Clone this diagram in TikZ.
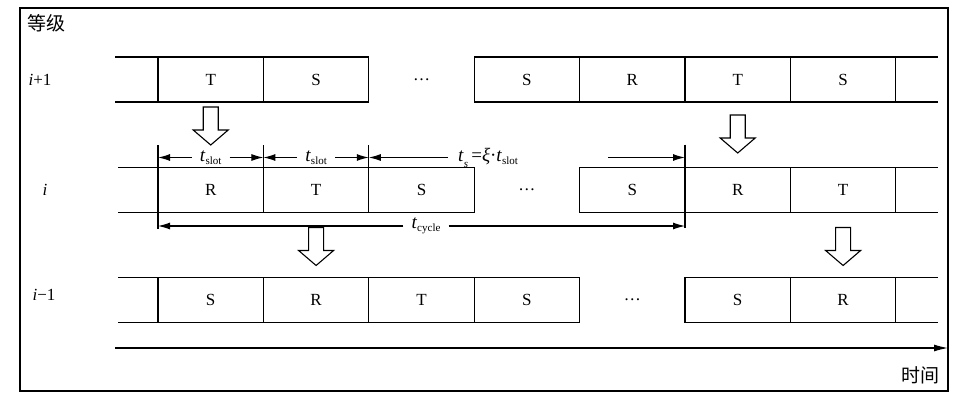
\documentclass[tikz,border=0pt]{standalone}
\usepackage{fontspec}
\setmainfont{Liberation Serif}
\newfontfamily\cjk{Noto Sans CJK SC}
\usetikzlibrary{arrows.meta,positioning}

\newcommand{\tlab}[1]{\textit{t}\raisebox{-3.5pt}{\fontsize{11}{11}\selectfont #1}}

\begin{document}
\begin{tikzpicture}[x=1pt,y=-1pt,
    line/.style={line width=1.1pt},
    cell/.style={draw,line width=1.1pt,minimum width=105.4pt,minimum height=45pt,inner sep=0pt,outer sep=0pt,font=\fontsize{17}{19}\selectfont},
    gap/.style={minimum width=105.4pt,minimum height=45pt,inner sep=0pt,outer sep=0pt,font=\fontsize{17}{19}\selectfont},
    endcell/.style={minimum width=#1,minimum height=45pt,inner sep=0pt,outer sep=0pt},
    level/.style={font=\fontsize{17}{19}\selectfont},
    dimlab/.style={font=\fontsize{19}{20}\selectfont,inner sep=8pt},
    dim/.style={line width=1.1pt,-{Latex[length=12pt,width=7pt]}},
    hollow/.pic={\draw[line width=1.1pt] (-7.5,0) -- (-7.5,23) -- (-17.5,23) -- (0,38) -- (17.5,23) -- (7.5,23) -- (7.5,0) -- cycle;}
]
\useasboundingbox (0,0) rectangle (960,401);
\draw[line width=2.2pt] (20,8) rectangle (948,391);

\node[anchor=west,font=\cjk\fontsize{19}{20}\selectfont] (grade) at (24,23) {等级};
\node[anchor=east,font=\cjk\fontsize{19}{20}\selectfont] (time) at (943,375) {时间};

\node[level] (li1) at (40,80) {\textit{i}+1};
\node[level] (li) at (45,190) {\textit{i}};
\node[level] (li0) at (44,295) {\textit{i}−1};

% level i+1
\node[cell] (a0) at (210.7,79.5) {T};
\node[cell,right=0pt of a0] (a1) {S};
\node[gap,right=0pt of a1] (a2) {…};
\node[cell,right=0pt of a2] (a3) {S};
\node[cell,right=0pt of a3] (a4) {R};
\node[cell,right=0pt of a4] (a5) {T};
\node[cell,right=0pt of a5] (a6) {S};
\node[endcell=43pt,left=0pt of a0] (aL) {};
\node[endcell=42pt,right=0pt of a6] (aR) {};
\draw[line] (aL.north west) -- (a0.north west) (aL.south west) -- (a0.south west);
\draw[line] (a6.north east) -- (aR.north east) (a6.south east) -- (aR.south east);

% level i
\node[cell] (b0) at (210.7,190) {R};
\node[cell,right=0pt of b0] (b1) {T};
\node[cell,right=0pt of b1] (b2) {S};
\node[gap,right=0pt of b2] (b3) {…};
\node[cell,right=0pt of b3] (b4) {S};
\node[cell,right=0pt of b4] (b5) {R};
\node[cell,right=0pt of b5] (b6) {T};
\node[endcell=40pt,left=0pt of b0] (bL) {};
\node[endcell=42pt,right=0pt of b6] (bR) {};
\draw[line] (bL.north west) -- (b0.north west) (bL.south west) -- (b0.south west);
\draw[line] (b6.north east) -- (bR.north east) (b6.south east) -- (bR.south east);

% level i-1
\node[cell] (c0) at (210.7,300) {S};
\node[cell,right=0pt of c0] (c1) {R};
\node[cell,right=0pt of c1] (c2) {T};
\node[cell,right=0pt of c2] (c3) {S};
\node[gap,right=0pt of c3] (c4) {…};
\node[cell,right=0pt of c4] (c5) {S};
\node[cell,right=0pt of c5] (c6) {R};
\node[endcell=40pt,left=0pt of c0] (cL) {};
\node[endcell=42pt,right=0pt of c6] (cR) {};
\draw[line] (cL.north west) -- (c0.north west) (cL.south west) -- (c0.south west);
\draw[line] (c6.north east) -- (cR.north east) (c6.south east) -- (cR.south east);

% slot widths
\coordinate (t0) at ([yshift=23pt]b0.north west);
\coordinate (t1) at ([yshift=23pt]b1.north west);
\coordinate (t2) at ([yshift=23pt]b2.north west);
\coordinate (t5) at ([yshift=23pt]b5.north west);
\coordinate (e0) at ([yshift=-16pt]b0.south west);
\coordinate (e5) at ([yshift=-15pt]b5.south west);
\draw[line] (b0.north west) -- (t0) (b1.north west) -- (t1) (b2.north west) -- (t2);
\draw[line] (b0.south west) -- (e0) (t5) -- (e5);

\node[dimlab] (l1) at ([yshift=10pt]b0.north) {\tlab{slot}};
\node[dimlab] (l2) at ([yshift=10pt]b1.north) {\tlab{slot}};
\node[dimlab,anchor=west,inner sep=0pt] (l3) at (458,157.5) {\textit{t}\raisebox{-6pt}{\fontsize{11}{11}\selectfont\textit{s}}\,=\textit{ξ}·\tlab{slot}};
\coordinate (m3) at (608,157.5);
\draw[dim] (l1) -- (l1 -| t0);
\draw[dim] (l1) -- (l1 -| t1);
\draw[dim] (l2) -- (l2 -| t1);
\draw[dim] (l2) -- (l2 -| t2);
\draw[dim] ([xshift=-10pt]l3.west) -- (l3 -| t2);
\draw[dim] (m3) -- (m3 -| t5);

\node[dimlab,inner sep=8pt] (l4) at (426,226) {\tlab{cycle}};
\draw[dim] (l4) -- (l4 -| e0);
\draw[dim] (l4) -- (l4 -| e5);

% passing down
\pic at ([yshift=-5pt]a0.south) {hollow};
\pic at ([yshift=-13pt]a5.south) {hollow};
\pic at ([yshift=-15pt]b1.south) {hollow};
\pic at ([yshift=-15pt]b6.south) {hollow};

% time axis
\coordinate (ax0) at (115,348);
\coordinate (ax1) at (948,348);
\draw[line,-{Latex[length=14pt,width=7pt]}] (ax0) -- (ax1);
\end{tikzpicture}
\end{document}
